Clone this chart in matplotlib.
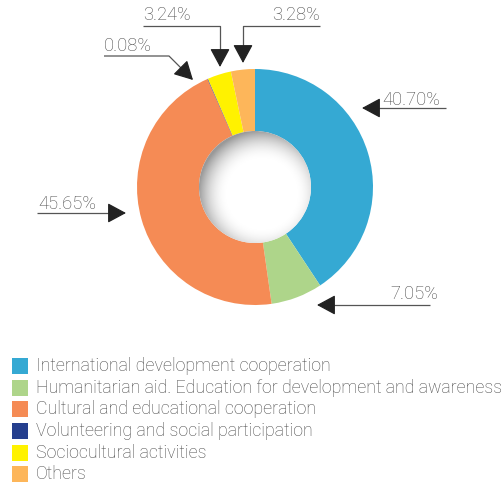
import numpy as np
import matplotlib
matplotlib.use('Agg')
import matplotlib.pyplot as plt
from matplotlib.patches import Rectangle, Circle

plt.rcParams['font.family'] = ['Roboto', 'DejaVu Sans']

categories = ['International development cooperation',
              'Humanitarian aid. Education for development and awareness',
              'Cultural and educational cooperation',
              'Volunteering and social participation',
              'Sociocultural activities',
              'Others']
shares = [40.70, 7.05, 45.65, 0.08, 3.24, 3.28]
colors = ['#35a9d3', '#aed58a', '#f58b55', '#253f8e', '#fff200', '#fdb65a']

W, H = 502, 482
cx, cy = 255, H - 187
r_out, r_in = 118, 56

fig = plt.figure(figsize=(W / 100, H / 100), dpi=100)
ax = fig.add_axes([0, 0, 1, 1])
ax.pie(shares, colors=colors, startangle=90, counterclock=False,
       radius=r_out, center=(cx, cy),
       wedgeprops=dict(width=r_out - r_in, edgecolor='none'))
ax.set_xlim(0, W)
ax.set_ylim(0, H)
ax.set_aspect('auto')
ax.axis('off')

# hole with soft inner shadow
n = 200
xs = np.linspace(cx - r_in, cx + r_in, n)
ys = np.linspace(cy - r_in, cy + r_in, n)
X, Y = np.meshgrid(xs, ys)
d = np.hypot(X - (cx + 7), Y - (cy - 7))
shade = np.clip((d - (r_in - 22)) / 30, 0, 1) ** 2
img = 1 - 0.4 * shade
im = ax.imshow(img, cmap='gray', vmin=0, vmax=1, origin='lower',
               extent=(cx - r_in, cx + r_in, cy - r_in, cy + r_in),
               interpolation='bilinear', zorder=3)
im.set_clip_path(Circle((cx, cy), r_in, transform=ax.transData))

# callouts in pixel coords (y down)
callouts = [
    dict(tx=382, ty=100, path=[(446, 108), (378, 108)], tip=(362, 108)),
    dict(tx=390, ty=294, path=[(430, 305), (333, 305)], tip=(317, 305)),
    dict(tx=38, ty=204, path=[(37, 213), (110, 213)], tip=(126, 213)),
    dict(tx=104, ty=46, path=[(104, 56), (169, 56), (181, 68)], tip=(193, 80)),
    dict(tx=143, ty=15, path=[(143, 26), (220, 26), (220, 52)], tip=(220, 67)),
    dict(tx=272, ty=15, path=[(320, 26), (243, 26), (243, 48)], tip=(243, 63)),
]
label_color = '#484848'
for v, c in zip(shares, callouts):
    ax.text(c['tx'], H - c['ty'], f'{v:.2f}%', fontsize=13.2, color=label_color,
            fontweight='light', ha='left', va='center')
    px = [p[0] for p in c['path']]
    py = [H - p[1] for p in c['path']]
    ax.plot(px, py, color='#555555', lw=0.9, solid_capstyle='butt')
    ax.annotate('', xy=(c['tip'][0], H - c['tip'][1]), xytext=(px[-1], py[-1]),
                arrowprops=dict(arrowstyle='-|>,head_length=1.15,head_width=0.62',
                                color='#222222', lw=0.9, shrinkA=0, shrinkB=0))

# legend
row_y = [366, 388, 409, 431, 453, 474]
for name, col, y in zip(categories, colors, row_y):
    ax.add_patch(Rectangle((12, H - y - 8), 16, 16, facecolor=col, edgecolor='none'))
    ax.text(36, H - y, name, fontsize=12.75, color=label_color,
            fontweight='light', ha='left', va='center')

fig.savefig('out.png', dpi=100)
